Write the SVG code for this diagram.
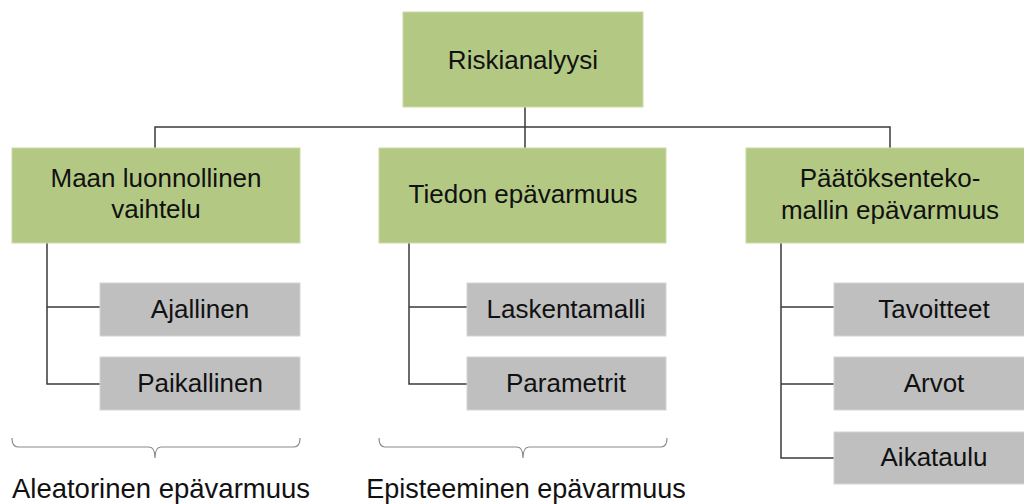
<svg xmlns="http://www.w3.org/2000/svg" width="1024" height="504" viewBox="0 0 1024 504">
<style>
.g{fill:#B3C983;stroke:#C9D9A8;stroke-width:1}
.s{fill:#BFBFBF;stroke:#D4D4D4;stroke-width:1}
.t{font-family:"Liberation Sans",Arial,sans-serif;font-size:26px;fill:#111;text-anchor:middle}
.b{font-family:"Liberation Sans",Arial,sans-serif;font-size:27px;fill:#111;text-anchor:middle}
.c{fill:none;stroke:#3a3a3a;stroke-width:1.5}
.br{fill:none;stroke:#8a8a8a;stroke-width:1.2}
</style>
<rect width="1024" height="504" fill="#fff"/>
<g id="connectors">
<path class="c" d="M525,107V127M155,148V127H890V148M525,127V148"/>
<path class="c" d="M47,243V384H100M47,307H100"/>
<path class="c" d="M409,243V384H467M409,307H467"/>
<path class="c" d="M781,243V458H834M781,307H834M781,384H834"/>
</g>
<g id="root"><rect class="g" x="403" y="12" width="240" height="95"/><text class="t" x="523" y="69">Riskianalyysi</text></g>
<g id="maan"><rect class="g" x="12" y="148" width="288" height="95"/><text class="t" x="156" y="187">Maan luonnollinen</text><text class="t" x="156" y="218">vaihtelu</text></g>
<g id="tiedon"><rect class="g" x="379" y="148" width="287" height="95"/><text class="t" x="523" y="203">Tiedon epävarmuus</text></g>
<g id="paatos"><rect class="g" x="746" y="148" width="288" height="95"/><text class="t" x="890" y="187">Päätöksenteko-</text><text class="t" x="890" y="219">mallin epävarmuus</text></g>
<g id="ajallinen"><rect class="s" x="100" y="283" width="200" height="53"/><text class="t" x="200" y="318">Ajallinen</text></g>
<g id="paikallinen"><rect class="s" x="100" y="357" width="200" height="53"/><text class="t" x="200" y="392">Paikallinen</text></g>
<g id="laskentamalli"><rect class="s" x="467" y="283" width="199" height="53"/><text class="t" x="566" y="318">Laskentamalli</text></g>
<g id="parametrit"><rect class="s" x="467" y="357" width="199" height="53"/><text class="t" x="566" y="392">Parametrit</text></g>
<g id="tavoitteet"><rect class="s" x="834" y="283" width="200" height="53"/><text class="t" x="934" y="318">Tavoitteet</text></g>
<g id="arvot"><rect class="s" x="834" y="357" width="200" height="53"/><text class="t" x="934" y="392">Arvot</text></g>
<g id="aikataulu"><rect class="s" x="834" y="432" width="200" height="52"/><text class="t" x="934" y="466">Aikataulu</text></g>
<g id="aleatorinen">
<path class="br" d="M12,438Q12,447 18,447H149Q155,447 155,458Q155,447 161,447H294Q300,447 300,438"/>
<text class="b" x="161" y="498" style="font-size:27.5px">Aleatorinen epävarmuus</text>
</g>
<g id="episteeminen">
<path class="br" d="M379,438Q379,447 385,447H517Q523,447 523,458Q523,447 529,447H661Q667,447 667,438"/>
<text class="b" x="526" y="498">Episteeminen epävarmuus</text>
</g>
</svg>
